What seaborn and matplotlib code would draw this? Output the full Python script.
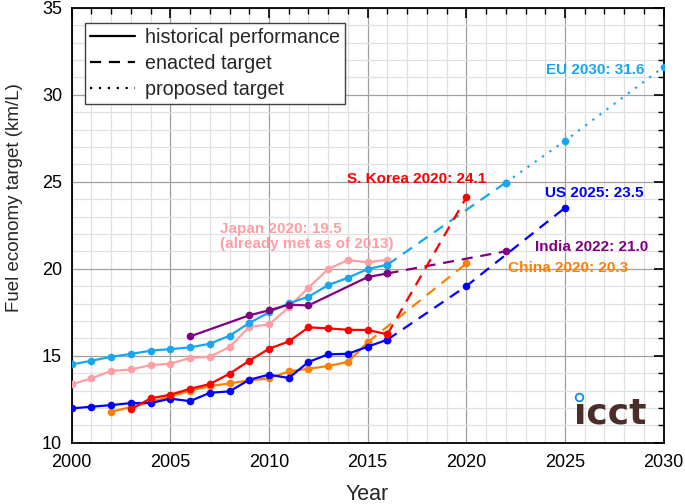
import pandas as pd
import matplotlib
matplotlib.use('Agg')
import matplotlib.pyplot as plt
from matplotlib.lines import Line2D
from matplotlib.ticker import MultipleLocator
import seaborn as sns

# historical fleet averages (km/L)
eu_years = list(range(2000, 2017))
eu_vals = [14.50, 14.71, 14.94, 15.10, 15.29, 15.38, 15.48, 15.69, 16.15, 16.88, 17.49, 18.01, 18.39, 19.06, 19.48, 19.98, 20.23]
japan_years = list(range(2000, 2017))
japan_vals = [13.35, 13.70, 14.12, 14.21, 14.46, 14.54, 14.87, 14.94, 15.50, 16.65, 16.80, 17.78, 18.91, 19.98, 20.50, 20.36, 20.52]
india_years = [2006, 2009, 2010, 2011, 2012, 2015, 2016]
india_vals = [16.11, 17.32, 17.61, 17.93, 17.89, 19.52, 19.73]
korea_years = list(range(2003, 2017))
korea_vals = [11.92, 12.55, 12.76, 13.10, 13.37, 13.97, 14.71, 15.40, 15.82, 16.63, 16.57, 16.49, 16.48, 16.23]
china_years = list(range(2002, 2016))
china_vals = [11.78, 12.05, 12.35, 12.65, 13.00, 13.25, 13.41, 13.58, 13.70, 14.10, 14.25, 14.41, 14.64, 15.77]
us_years = list(range(2000, 2017))
us_vals = [11.97, 12.07, 12.16, 12.28, 12.28, 12.53, 12.39, 12.87, 12.95, 13.62, 13.91, 13.72, 14.64, 15.08, 15.11, 15.52, 15.92]

# targets (enacted = dashed, proposed = dotted)
eu_enacted_years = [2016, 2022]
eu_enacted_vals = [20.23, 24.95]
eu_proposed_years = [2022, 2025, 2030]
eu_proposed_vals = [24.95, 27.35, 31.6]
india_enacted_years = [2016, 2022]
india_enacted_vals = [19.73, 21.0]
korea_enacted_years = [2016, 2020]
korea_enacted_vals = [16.23, 24.1]
china_enacted_years = [2015, 2020]
china_enacted_vals = [15.77, 20.3]
us_enacted_years = [2016, 2020, 2025]
us_enacted_vals = [15.92, 19.0, 23.5]

colors = {'EU': '#1AA6EE', 'Japan': '#FF9EA4', 'India': '#800080',
          'S. Korea': '#FF0000', 'China': '#FF8000', 'US': '#0000FF'}

series = [
    ('China', 'historical', china_years, china_vals),
    ('China', 'enacted', china_enacted_years, china_enacted_vals),
    ('Japan', 'historical', japan_years, japan_vals),
    ('EU', 'historical', eu_years, eu_vals),
    ('EU', 'enacted', eu_enacted_years, eu_enacted_vals),
    ('EU', 'proposed', eu_proposed_years, eu_proposed_vals),
    ('India', 'historical', india_years, india_vals),
    ('India', 'enacted', india_enacted_years, india_enacted_vals),
    ('US', 'historical', us_years, us_vals),
    ('US', 'enacted', us_enacted_years, us_enacted_vals),
    ('S. Korea', 'historical', korea_years, korea_vals),
    ('S. Korea', 'enacted', korea_enacted_years, korea_enacted_vals),
]
line_styles = {'historical': '-', 'enacted': (0, (5, 3.5)), 'proposed': (0, (1, 3))}

sns.set_style('white')
plt.rcParams['font.family'] = ['Liberation Sans', 'DejaVu Sans']

fig = plt.figure(figsize=(6.85, 5.04), dpi=100)
ax = fig.add_axes([0.1047, 0.1216, 0.8641, 0.8631])

for region, kind, years, vals in series:
    df = pd.DataFrame({'Year': years, 'Value': vals})
    sns.lineplot(x='Year', y='Value', data=df, ax=ax, color=colors[region],
                 linestyle=line_styles[kind], linewidth=1.6, marker='o',
                 markersize=5.5, markeredgecolor=colors[region], markeredgewidth=0,
                 zorder=3)

ax.set_xlim(2000, 2030)
ax.set_ylim(10, 35)
ax.xaxis.set_major_locator(MultipleLocator(5))
ax.xaxis.set_minor_locator(MultipleLocator(1))
ax.yaxis.set_major_locator(MultipleLocator(5))
ax.yaxis.set_minor_locator(MultipleLocator(1))
ax.grid(which='major', color='#a0a0a0', linewidth=0.9)
ax.grid(which='minor', color='#e0e0e0', linewidth=0.9)
ax.set_axisbelow(True)
ax.tick_params(which='both', direction='in', top=True, right=True, colors='black', labelsize=13)
ax.tick_params(which='major', length=7, width=1.2)
ax.tick_params(axis='x', which='major', pad=8)
ax.tick_params(axis='y', which='major', pad=7)
ax.tick_params(which='minor', length=4, width=1.0)
for sp in ax.spines.values():
    sp.set_color('black')
    sp.set_linewidth(1.3)

ax.set_xlabel('Year', fontsize=15.5)
ax.set_ylabel('Fuel economy target (km/L)', fontsize=13.5)
ax.xaxis.set_label_coords(0.5, -0.094)
ax.yaxis.set_label_coords(-0.082, 0.564)

handles = [Line2D([], [], color='black', lw=1.6, linestyle=line_styles[k]) for k in ['historical', 'enacted', 'proposed']]
leg = ax.legend(handles, ['historical performance', 'enacted target', 'proposed target'],
                loc='upper left', bbox_to_anchor=(0.0225, 0.965), borderaxespad=0,
                fontsize=14.2, handlelength=2.3, fancybox=False, framealpha=1,
                edgecolor='#404040', borderpad=0.25, labelspacing=0.36, handletextpad=0.5)
leg.get_frame().set_linewidth(1.0)

txt = dict(fontsize=11, fontweight='bold')
ax.text(2029.0, 31.42, 'EU 2030: 31.6', color=colors['EU'], ha='right', va='center', **txt)
ax.text(2017.5, 25.15, 'S. Korea 2020: 24.1', color=colors['S. Korea'], ha='center', va='center', **txt)
ax.text(2029.0, 24.37, 'US 2025: 23.5', color=colors['US'], ha='right', va='center', **txt)
ax.text(2029.2, 21.26, 'India 2022: 21.0', color=colors['India'], ha='right', va='center', **txt)
ax.text(2028.2, 20.04, 'China 2020: 20.3', color=colors['China'], ha='right', va='center', **txt)
ax.text(2007.5, 21.86, 'Japan 2020: 19.5\n(already met as of 2013)', color=colors['Japan'],
        ha='left', va='center', linespacing=1.15, **txt)

# icct logo: dotless i plus a blue ring for its dot
ax.text(0.8485, 0.045, '\u0131cct', transform=ax.transAxes, color='#4B2E2B',
        fontsize=26, fontweight='bold', ha='left', va='baseline', family=['DejaVu Sans'])
ax.plot([0.8578], [0.1057], transform=ax.transAxes, marker='o', markersize=5.5,
        markerfacecolor='white', markeredgecolor='#1A8FD0', markeredgewidth=1.3,
        linestyle='none', zorder=4)

fig.savefig('out.png', dpi=100)
